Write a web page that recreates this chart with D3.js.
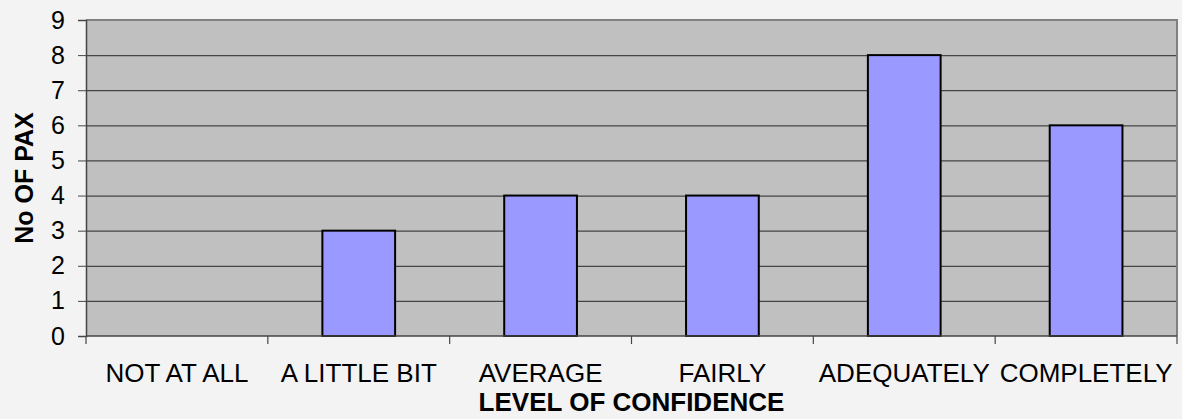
<!DOCTYPE html>
<html>
<head>
<meta charset="utf-8">
<script src="https://cdn.jsdelivr.net/npm/d3@7"></script>
<style>
  body { margin: 0; background: #f3f3f3; }
  svg { display: block; font-family: "Liberation Sans", Arial, sans-serif; }
</style>
</head>
<body>
<svg id="chart"></svg>
<script>
var width = 1182;
var height = 419;
var margin = { top: 20, right: 5, bottom: 83, left: 86 };

// chart data
var categories = ["NOT AT ALL", "A LITTLE BIT", "AVERAGE", "FAIRLY", "ADEQUATELY", "COMPLETELY"];
var paxCounts = [0, 3, 4, 4, 8, 6];
var yTicks = [0, 1, 2, 3, 4, 5, 6, 7, 8, 9];

var data = categories.map(function(c, i) { return { cat: c, value: paxCounts[i] }; });

var innerW = width - margin.left - margin.right;
var innerH = height - margin.top - margin.bottom;

var svg = d3.select("#chart")
  .attr("width", width)
  .attr("height", height);

var g = svg.append("g")
  .attr("transform", "translate(" + margin.left + "," + margin.top + ")");

var x = d3.scaleBand()
  .domain(categories)
  .range([0, innerW])
  .paddingInner(0.6)
  .paddingOuter(0.3);

// band used for ticks between categories
var xCat = d3.scaleBand().domain(categories).range([0, innerW]);

var y = d3.scaleLinear()
  .domain([0, 9])
  .range([innerH, 0]);

// plot background
g.append("rect")
  .attr("width", innerW)
  .attr("height", innerH)
  .attr("fill", "#c0c0c0");

// grid lines
g.append("g")
  .attr("class", "grid")
  .call(d3.axisLeft(y).tickValues(yTicks.slice(1, 9)).tickSize(-innerW).tickFormat(""))
  .call(function(s) { s.select(".domain").remove(); })
  .selectAll("line")
  .attr("stroke", "#454545")
  .attr("stroke-width", 1.2);

// plot border (top, right)
g.append("path")
  .attr("d", "M0," + y(9) + "H" + innerW + "V" + innerH)
  .attr("fill", "none")
  .attr("stroke", "#808080")
  .attr("stroke-width", 2);

// bars
g.selectAll(".bar")
  .data(data.filter(function(d) { return d.value > 0; }))
  .enter()
  .append("rect")
  .attr("class", "bar")
  .attr("x", function(d) { return x(d.cat); })
  .attr("width", x.bandwidth())
  .attr("y", function(d) { return y(d.value); })
  .attr("height", function(d) { return innerH - y(d.value); })
  .attr("fill", "#9999ff")
  .attr("stroke", "#000")
  .attr("stroke-width", 2);

// y axis
var yAxis = g.append("g")
  .call(d3.axisLeft(y).tickValues(yTicks).tickSize(8).tickPadding(13));
yAxis.select(".domain").attr("stroke", "#454545").attr("stroke-width", 1.5);
yAxis.selectAll("line").attr("stroke", "#454545");
yAxis.selectAll("text")
  .attr("fill", "#000")
  .style("font-size", "25px")
  .style("font-family", "Liberation Sans, Arial, sans-serif");

// x axis: ticks between categories
var xAxis = g.append("g")
  .attr("transform", "translate(0," + innerH + ")");
xAxis.append("line")
  .attr("x1", 0).attr("x2", innerW)
  .attr("stroke", "#454545").attr("stroke-width", 1.5);
var boundaries = categories.map(function(c) { return xCat(c); }).concat([innerW]);
xAxis.selectAll(".xtick")
  .data(boundaries)
  .enter()
  .append("line")
  .attr("class", "xtick")
  .attr("x1", function(d) { return d; })
  .attr("x2", function(d) { return d; })
  .attr("y1", 0).attr("y2", 8)
  .attr("stroke", "#454545").attr("stroke-width", 1.2);
xAxis.selectAll(".xlabel")
  .data(categories)
  .enter()
  .append("text")
  .attr("class", "xlabel")
  .attr("x", function(d) { return xCat(d) + xCat.bandwidth() / 2; })
  .attr("y", 46)
  .attr("text-anchor", "middle")
  .style("font-size", "26px")
  .attr("fill", "#000")
  .text(function(d) { return d; });

// axis titles
svg.append("text")
  .attr("x", margin.left + innerW / 2)
  .attr("y", 411)
  .attr("text-anchor", "middle")
  .style("font-size", "26px")
  .style("font-weight", "bold")
  .text("LEVEL OF CONFIDENCE");

svg.append("text")
  .attr("transform", "translate(33," + (margin.top + innerH / 2) + ") rotate(-90)")
  .attr("text-anchor", "middle")
  .style("font-size", "25px")
  .style("font-weight", "bold")
  .text("No OF PAX");
</script>
</body>
</html>
